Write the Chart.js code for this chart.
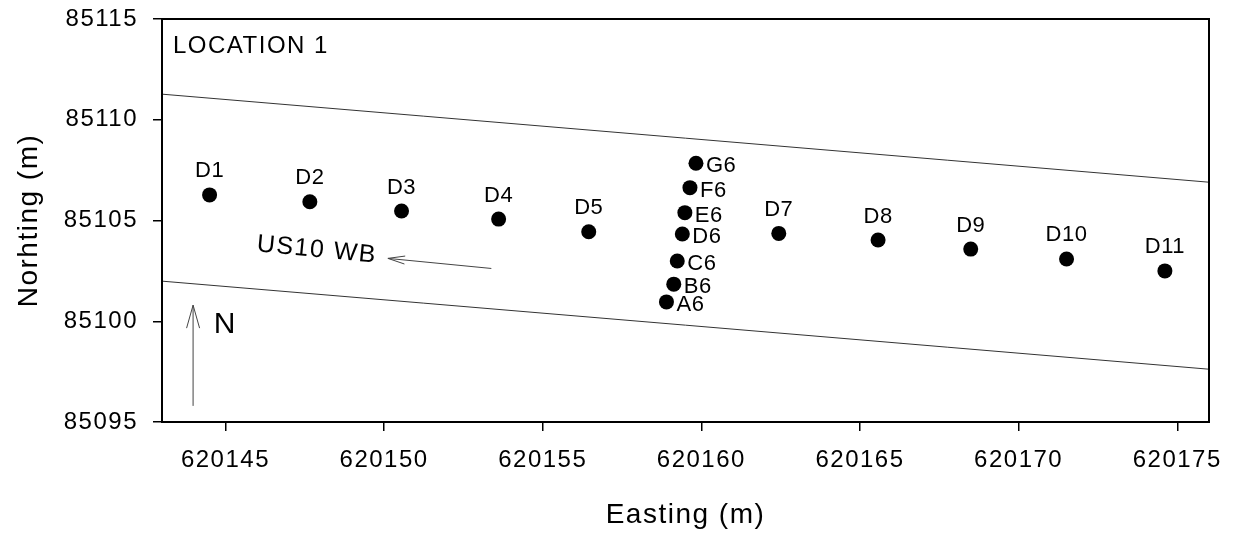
<!DOCTYPE html>
<html><head><meta charset="utf-8">
<script src="https://cdn.jsdelivr.net/npm/chart.js@4.4.1/dist/chart.umd.min.js"></script>
<style>html,body{margin:0;padding:0;background:#fff;overflow:hidden}</style>
</head><body>
<canvas id="c" width="1233" height="539" style="width:1233px;height:539px;display:block"></canvas>
<script>
// ---- data ----
const mainNames    = ['D1','D2','D3','D4','D5','D7','D8','D9','D10','D11'];
const mainEasting  = [620144.50, 620147.66, 620150.55, 620153.61, 620156.45, 620162.44, 620165.57, 620168.49, 620171.51, 620174.61];
const mainNorthing = [85106.27, 85105.93, 85105.47, 85105.07, 85104.44, 85104.36, 85104.03, 85103.58, 85103.09, 85102.50];

const transNames    = ['A6','B6','C6','D6','E6','F6','G6'];
const transEasting  = [620158.90, 620159.13, 620159.24, 620159.40, 620159.48, 620159.64, 620159.83];
const transNorthing = [85100.96, 85101.84, 85102.99, 85104.33, 85105.39, 85106.63, 85107.84];

const edgeEasting        = [620143, 620176];
const upperEdgeNorthing  = [85111.27, 85106.90];
const lowerEdgeNorthing  = [85101.99, 85097.62];

const directionEasting   = [620153.38, 620150.12];   // tail -> tip
const directionNorthing  = [85102.62, 85103.12];
const northEasting       = [620143.98, 620143.98];   // tail -> tip
const northNorthing      = [85095.80, 85100.80];

const xTicks = [620145, 620150, 620155, 620160, 620165, 620170, 620175];
const yTicks = [85095, 85100, 85105, 85110, 85115];
const xRange = [620143, 620176];
const yRange = [85095, 85115];

const panelTitle = 'LOCATION 1';
const directionLabel = 'US10 WB';
const directionLabelAt = [620147.88, 85103.53];
const northLabel = 'N';
const northLabelAt = [620144.63, 85099.82];

// ---- chart ----
const FAM = '"Liberation Sans", Arial, sans-serif';
const pts = (xs, ys) => xs.map((x, i) => ({x, y: ys[i]}));

function arrowHead(ctx, tail, tip, len, half) {
  const dx = tip.x - tail.x, dy = tip.y - tail.y;
  const d = Math.hypot(dx, dy) || 1;
  const ux = dx / d, uy = dy / d, nx = -uy, ny = ux;
  const bx = tip.x - ux * len, by = tip.y - uy * len;
  ctx.beginPath();
  ctx.moveTo(bx + nx * half, by + ny * half);
  ctx.lineTo(tip.x, tip.y);
  ctx.lineTo(bx - nx * half, by - ny * half);
  ctx.stroke();
}

const spacingPlugin = {
  id: 'spacing',
  beforeUpdate(c) { c.ctx.letterSpacing = '1.5px'; },
  beforeDraw(c) { c.ctx.letterSpacing = '1.5px'; }
};

const decorPlugin = {
  id: 'decor',
  afterDatasetsDraw(c) {
    const ctx = c.ctx, xs = c.scales.x, ys = c.scales.y, a = c.chartArea;
    ctx.save();
    ctx.fillStyle = '#000';
    ctx.font = '22px ' + FAM;
    ctx.letterSpacing = '0.5px';
    c.getDatasetMeta(0).data.forEach((p, i) => {
      ctx.textAlign = 'center'; ctx.textBaseline = 'alphabetic';
      ctx.fillText(mainNames[i], p.x, p.y - 17.5);
    });
    c.getDatasetMeta(1).data.forEach((p, i) => {
      ctx.textAlign = 'left'; ctx.textBaseline = 'middle';
      ctx.fillText(transNames[i], p.x + 10, p.y + 3);
    });
    ctx.strokeStyle = '#444'; ctx.lineWidth = 1;
    const dm = c.getDatasetMeta(4).data, nm = c.getDatasetMeta(5).data;
    arrowHead(ctx, dm[0], dm[1], 17, 4);
    arrowHead(ctx, nm[0], nm[1], 23, 6.5);
    ctx.letterSpacing = '1.5px';
    const ang = Math.atan2(dm[0].y - dm[1].y, dm[0].x - dm[1].x);
    ctx.save();
    ctx.translate(xs.getPixelForValue(directionLabelAt[0]), ys.getPixelForValue(directionLabelAt[1]));
    ctx.rotate(ang);
    ctx.font = '25px ' + FAM; ctx.textAlign = 'center'; ctx.textBaseline = 'middle';
    ctx.fillText(directionLabel, 0, 0);
    ctx.restore();
    ctx.font = '30px ' + FAM; ctx.textAlign = 'left'; ctx.textBaseline = 'middle';
    ctx.fillText(northLabel, xs.getPixelForValue(northLabelAt[0]), ys.getPixelForValue(northLabelAt[1]));
    ctx.font = '24px ' + FAM; ctx.textBaseline = 'alphabetic';
    ctx.fillText(panelTitle, a.left + 11, a.top + 33.5);
    ctx.restore();
  },
  afterDraw(c) {
    const ctx = c.ctx, a = c.chartArea;
    ctx.save();
    ctx.strokeStyle = '#000'; ctx.lineWidth = 2;
    ctx.strokeRect(a.left, a.top, a.right - a.left, a.bottom - a.top);
    ctx.restore();
  }
};

const axisCommon = {
  grid: { drawOnChartArea: false, drawTicks: true, tickLength: 9, color: '#000', lineWidth: 1.5 },
  border: { display: true, color: '#000', width: 2 },
};
const zeroPad = s => { s.paddingTop = 0; s.paddingBottom = 0; s.paddingLeft = 0; s.paddingRight = 0; };

new Chart(document.getElementById('c'), {
  type: 'scatter',
  data: {
    datasets: [
      { data: pts(mainEasting, mainNorthing), pointRadius: 7.5, backgroundColor: '#000', borderWidth: 0, showLine: false },
      { data: pts(transEasting, transNorthing), pointRadius: 7.5, backgroundColor: '#000', borderWidth: 0, showLine: false },
      { data: pts(edgeEasting, upperEdgeNorthing), showLine: true, pointRadius: 0, borderColor: '#333', borderWidth: 1 },
      { data: pts(edgeEasting, lowerEdgeNorthing), showLine: true, pointRadius: 0, borderColor: '#333', borderWidth: 1 },
      { data: pts(directionEasting, directionNorthing), showLine: true, pointRadius: 0, borderColor: '#444', borderWidth: 1 },
      { data: pts(northEasting, northNorthing), showLine: true, pointRadius: 0, borderColor: '#444', borderWidth: 1 }
    ]
  },
  options: {
    responsive: false,
    animation: false,
    events: [],
    layout: { padding: { top: 19, right: 24, left: 0, bottom: 0 } },
    plugins: { legend: { display: false }, tooltip: { enabled: false } },
    scales: {
      x: {
        type: 'linear', position: 'bottom', min: xRange[0], max: xRange[1],
        afterBuildTicks: s => { s.ticks = xTicks.map(v => ({value: v})); },
        afterFit: s => { s.height = 117; zeroPad(s); },
        ticks: { callback: v => String(v), font: { size: 24, family: FAM }, color: '#000', padding: 15, maxRotation: 0, autoSkip: false },
        title: { display: true, text: 'Easting (m)', color: '#000', font: { size: 28, family: FAM }, padding: { top: 0, bottom: 7 } },
        ...axisCommon
      },
      y: {
        type: 'linear', position: 'left', min: yRange[0], max: yRange[1],
        afterBuildTicks: s => { s.ticks = yTicks.map(v => ({value: v})); },
        afterFit: s => { s.width = 162; zeroPad(s); },
        ticks: { callback: v => String(v), font: { size: 24, family: FAM }, color: '#000', padding: 15, autoSkip: false },
        title: { display: true, text: 'Norhting (m)', color: '#000', font: { size: 28, family: FAM }, padding: { top: 12.7, bottom: 0 } },
        ...axisCommon
      }
    }
  },
  plugins: [spacingPlugin, decorPlugin]
});
</script>
</body></html>
